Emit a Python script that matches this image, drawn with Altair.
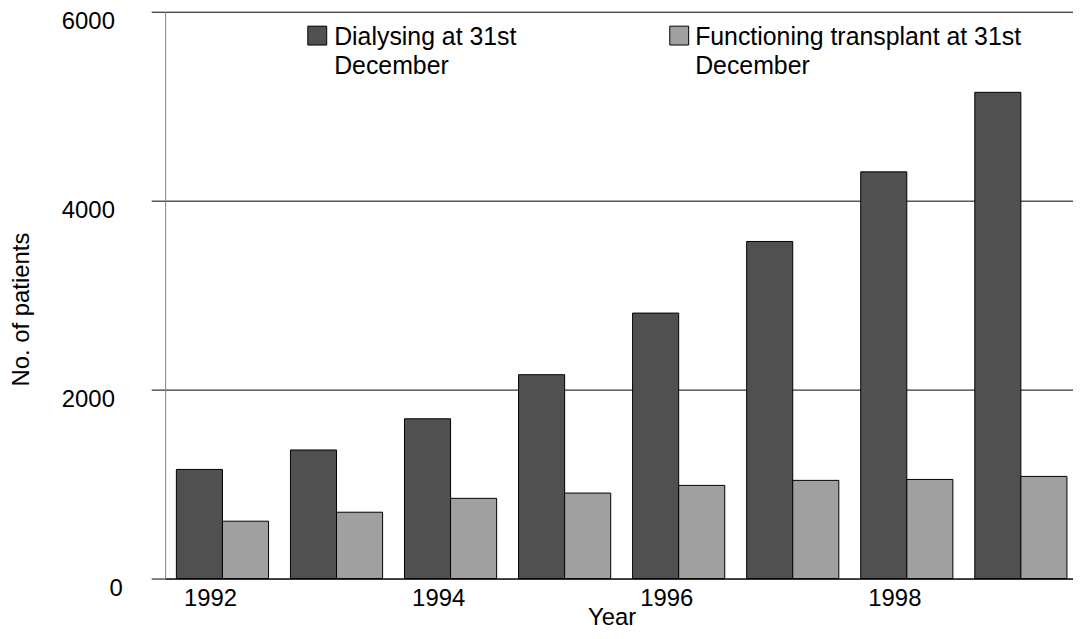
import altair as alt
import pandas as pd

# ---- data ----
years = ["1992", "1993", "1994", "1995", "1996", "1997", "1998", "1999"]
dialysing = [1155, 1361, 1691, 2158, 2810, 3568, 4305, 5147]
transplant = [607, 702, 849, 905, 986, 1039, 1049, 1081]
series = ["Dialysing at 31st December", "Functioning transplant at 31st December"]
legend_text = ["Dialysing at 31st\nDecember", "Functioning transplant at 31st\nDecember"]
colors = ["#505050", "#a0a0a0"]
y_ticks = [0, 2000, 4000, 6000]
x_label_years = ["1992", "1994", "1996", "1998"]

rows = []
for i, yr in enumerate(years):
    rows.append({"Year": yr, "Series": series[0], "Patients": dialysing[i]})
    rows.append({"Year": yr, "Series": series[1], "Patients": transplant[i]})
df = pd.DataFrame(rows)
legend_df = pd.DataFrame({"Series": series, "text": legend_text})

FONT = "Liberation Sans"

bars = alt.Chart(df).mark_bar(stroke="black", strokeWidth=1).encode(
    x=alt.X(
        "Year:N",
        sort=years,
        scale=alt.Scale(paddingInner=0.192, paddingOuter=0.076, align=0.65),
        axis=alt.Axis(
            values=x_label_years,
            title="Year",
            labelAngle=0,
            labelOffset=-12,
            labelPadding=8,
            ticks=False,
            domain=True,
            domainColor="black",
            domainWidth=1,
            labelFont=FONT,
            labelFontSize=24,
            labelColor="black",
            titleFont=FONT,
            titleFontSize=24,
            titleFontWeight="normal",
            titleColor="black",
            titleX=449,
            titleY=46,
            titleAlign="center",
            titleBaseline="alphabetic",
        ),
    ),
    xOffset=alt.XOffset("Series:N", sort=series),
    y=alt.Y(
        "Patients:Q",
        scale=alt.Scale(domain=[0, 6000], nice=False),
        axis=alt.Axis(
            values=y_ticks,
            format="d",
            title="No. of patients",
            grid=True,
            gridColor="black",
            gridWidth=1,
            tickSize=14,
            tickColor="black",
            domainColor="#808080",
            labelPadding={"condition": {"test": "datum.value == 0", "value": 29}, "value": 37},
            labelBaseline="middle",
            labelOffset=10,
            labelFont=FONT,
            labelFontSize=24,
            labelColor="black",
            titleFont=FONT,
            titleFontSize=24,
            titleFontWeight="normal",
            titleColor="black",
            titleAngle=-90,
            titleX=-137,
            titleY=299,
            titleAlign="center",
            titleBaseline="alphabetic",
        ),
    ),
    color=alt.Color("Series:N", scale=alt.Scale(domain=series, range=colors), legend=None),
)

legend_pos = [(153, 24, 170, 33), (517, 24, 533, 33)]
layers = [bars]
for i, (sx, sy, tx, ty) in enumerate(legend_pos):
    sub = legend_df.iloc[[i]]
    sq = alt.Chart(sub).mark_square(size=361, stroke="black", strokeWidth=1, opacity=1).encode(
        x=alt.value(sx), y=alt.value(sy), color=alt.value(colors[i])
    )
    tx_mark = alt.Chart(sub).mark_text(
        align="left", baseline="alphabetic", font=FONT, fontSize=25,
        lineHeight=30, lineBreak="\n", color="black"
    ).encode(x=alt.value(tx), y=alt.value(ty), text="text:N")
    layers += [sq, tx_mark]

chart = alt.layer(*layers).properties(
    width=913,
    height=570,
    autosize=alt.AutoSizeParams(type="none"),
    padding={"left": 158, "top": 2, "right": 0, "bottom": 51},
).configure_view(stroke=None)

chart.save("out.html", embed_options={"renderer": "svg", "actions": False})
